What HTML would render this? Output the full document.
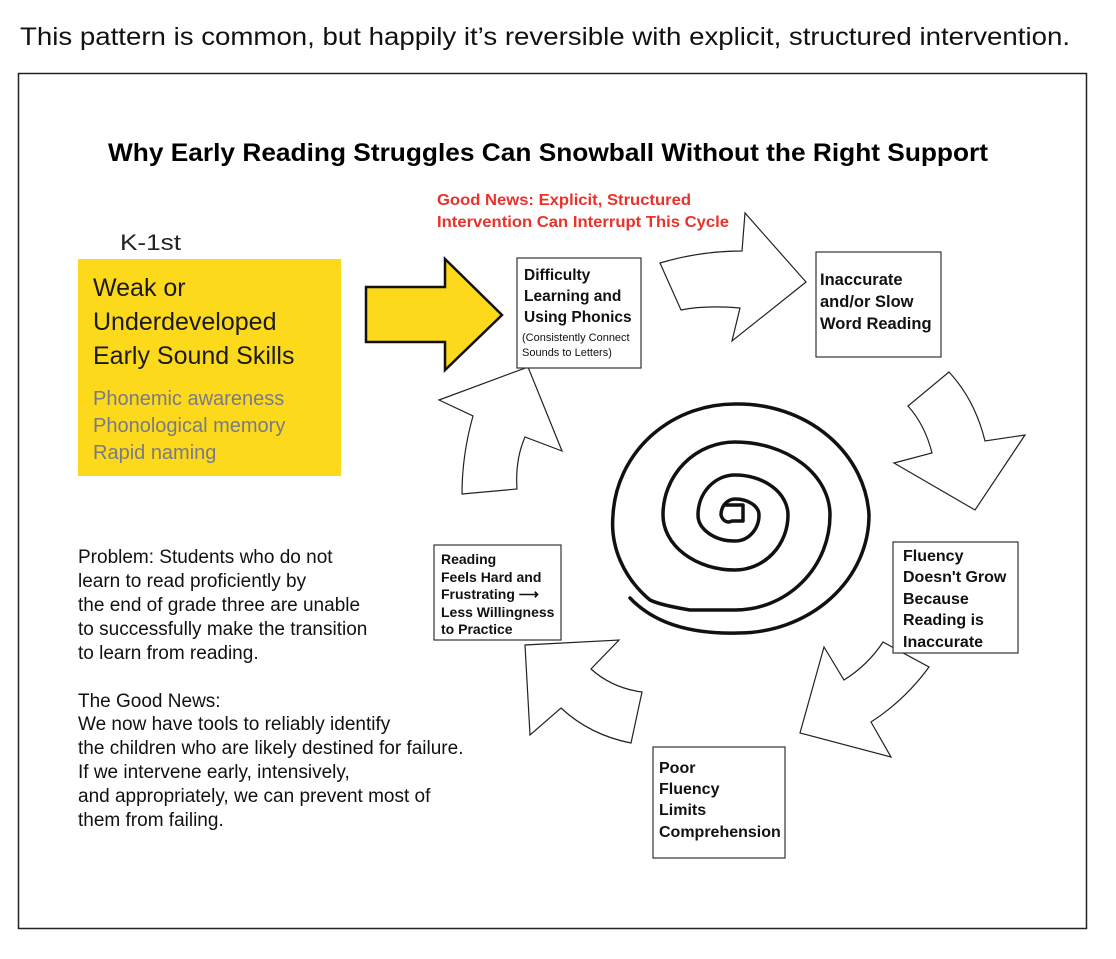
<!DOCTYPE html>
<html><head><meta charset="utf-8"><style>
body{margin:0;width:1116px;height:954px;background:#fff;overflow:hidden;font-family:"Liberation Sans",Arial,sans-serif}
</style></head><body>
<svg width="1116" height="954" viewBox="0 0 1116 954" xmlns="http://www.w3.org/2000/svg" font-family="Liberation Sans, Arial, sans-serif">
<text x="20" y="45" font-size="25" fill="#111" textLength="1050" lengthAdjust="spacingAndGlyphs">This pattern is common, but happily it’s reversible with explicit, structured intervention.</text>
<rect x="18.5" y="73.5" width="1068" height="855" fill="#fff" stroke="#222" stroke-width="1.5"/>
<text x="108" y="161" font-size="25" font-weight="bold" fill="#000" textLength="880" lengthAdjust="spacingAndGlyphs">Why Early Reading Struggles Can Snowball Without the Right Support</text>
<text x="437" y="205" font-size="16" font-weight="bold" fill="#e8322a" textLength="254" lengthAdjust="spacingAndGlyphs">Good News: Explicit, Structured</text>
<text x="437" y="227" font-size="16" font-weight="bold" fill="#e8322a" textLength="292" lengthAdjust="spacingAndGlyphs">Intervention Can Interrupt This Cycle</text>
<text x="120" y="250" font-size="22" fill="#222" textLength="61" lengthAdjust="spacingAndGlyphs">K-1st</text>
<rect x="78" y="259" width="263" height="217" fill="#fdd91c"/>
<g font-size="25" fill="#1a1a1a"><text x="93" y="296">Weak or</text><text x="93" y="330">Underdeveloped</text><text x="93" y="364">Early Sound Skills</text></g>
<g font-size="20" fill="#7a7a86"><text x="93" y="405">Phonemic awareness</text><text x="93" y="432">Phonological memory</text><text x="93" y="459">Rapid naming</text></g>
<polygon points="366,287 445,287 445,259 502,315 445,370 445,342 366,342" fill="#fdd91c" stroke="#111" stroke-width="2.5" stroke-linejoin="miter"/>
<g fill="#fff" stroke="#222" stroke-width="1.2">
<path d="M660,263 Q700,251 742,251 L745,213 L806,282 L732,341 L740,308 Q705,305 681,310 Z"/>
<path d="M908,406 L949,372 Q975,400 985,441 L1025,435 L975,510 L894,463 L932,453 Q925,425 908,406 Z"/>
<path d="M883,642 L929,667 Q905,700 871,722 L891,757 L800,733 L824,647 L844,680 Q868,665 883,642 Z"/>
<path d="M642,692 L631,743 Q590,735 561,708 L530,735 L525,645 L619,640 L591,669 Q612,688 642,692 Z"/>
<path d="M462,494 L517,489 Q515,460 525,437 L562,451 L528,367 L439,400 L473,416 Q462,455 462,494 Z"/>
</g>
<path d="M724,505 L743,505 L743,521 L732,521 A8 10 0 0 1 721,515 A14 16 0 0 1 735,499 A24 16 0 0 1 759,515 A24 26 0 0 1 735,541 A37 26 0 0 1 698,515 A37 40 0 0 1 735,475 A53 40 0 0 1 788,515 A53 55 0 0 1 735,570 A72 55 0 0 1 663,515 A72 73 0 0 1 735,442 A95 73 0 0 1 830,515 A95 95 0 0 1 735,610 L690,610 Q660,605 650,600 A122 106 0 0 1 613,515 A122 117 0 0 1 738,404 A131 117 0 0 1 869,515 A131 118 0 0 1 738,633 Q665,635 630,598" fill="none" stroke="#111" stroke-width="3.5" stroke-linecap="round" stroke-linejoin="round"/>
<g fill="#fff" stroke="#333" stroke-width="1.2">
<rect x="517" y="258" width="124" height="110"/>
<rect x="816" y="252" width="125" height="105"/>
<rect x="893" y="542" width="125" height="111"/>
<rect x="653" y="747" width="132" height="111"/>
<rect x="434" y="545" width="127" height="95"/>
</g>
<g font-weight="bold" fill="#111">
<g font-size="15.5"><text x="524" y="280">Difficulty</text><text x="524" y="301">Learning and</text><text x="524" y="322">Using Phonics</text></g>
<g font-size="11" font-weight="normal"><text x="522" y="341">(Consistently Connect</text><text x="522" y="356">Sounds to Letters)</text></g>
<g font-size="16.5"><text x="820" y="285">Inaccurate</text><text x="820" y="307">and/or Slow</text><text x="820" y="329">Word Reading</text></g>
<g font-size="16"><text x="903" y="561">Fluency</text><text x="903" y="582">Doesn't Grow</text><text x="903" y="604">Because</text><text x="903" y="625">Reading is</text><text x="903" y="647">Inaccurate</text></g>
<g font-size="16"><text x="659" y="773">Poor</text><text x="659" y="794">Fluency</text><text x="659" y="815">Limits</text><text x="659" y="837">Comprehension</text></g>
<g font-size="14"><text x="441" y="564">Reading</text><text x="441" y="582">Feels Hard and</text><text x="441" y="599">Frustrating ⟶</text><text x="441" y="617">Less Willingness</text><text x="441" y="634">to Practice</text></g>
</g>
<g font-size="19" fill="#111">
<text x="78" y="563">Problem: Students who do not</text>
<text x="78" y="587">learn to read proficiently by</text>
<text x="78" y="611">the end of grade three are unable</text>
<text x="78" y="635">to successfully make the transition</text>
<text x="78" y="659">to learn from reading.</text>
<text x="78" y="707">The Good News:</text>
<text x="78" y="730">We now have tools to reliably identify</text>
<text x="78" y="754">the children who are likely destined for failure.</text>
<text x="78" y="778">If we intervene early, intensively,</text>
<text x="78" y="802">and appropriately, we can prevent most of</text>
<text x="78" y="826">them from failing.</text>
</g>
</svg>
</body></html>
